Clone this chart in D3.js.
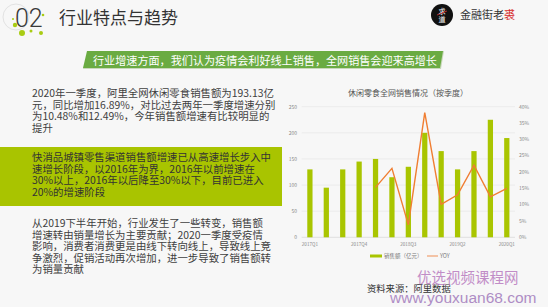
<!DOCTYPE html>
<html>
<head>
<meta charset="utf-8">
<script src="https://cdn.jsdelivr.net/npm/d3@7"></script>
<style>
  body { margin: 0; background: #f7f7f7; }
  svg { display: block; font-family: "Noto Sans CJK SC", "Noto Sans", sans-serif; }
</style>
</head>
<body>
<div id="chart"></div>
<script>
// quarterly data
const quarters = ["2017Q1","2017Q2","2017Q3","2017Q4","2018Q1","2018Q2","2018Q3","2018Q4","2019Q1","2019Q2","2019Q3","2019Q4","2020Q1"];
const sales = [130, 95, 130, 145, 150, 115, 135, 200, 165, 130, 165, 225, 190];
const yoyQuarters = ["2018Q1","2018Q2","2018Q3","2018Q4","2019Q1","2019Q2","2019Q3","2019Q4","2020Q1"];
const yoy = [0.153, 0.211, 0.038, 0.382, 0.101, 0.13, 0.221, 0.124, 0.15];
const leftTicks = [0, 50, 100, 150, 200, 250];
const rightTicks = [0, 0.05, 0.1, 0.15, 0.2, 0.25, 0.3, 0.35, 0.4];
const xTickLabels = ["2017Q1","2017Q4","2018Q3","2019Q2","2020Q1"];

const block1 = [
  "2020年一季度，阿里全网休闲零食销售额为193.13亿",
  "元，同比增加16.89%，对比过去两年一季度增速分别",
  "为10.48%和12.49%，今年销售额增速有比较明显的",
  "提升"
];
const block2 = [
  "快消品城镇零售渠道销售额增速已从高速增长步入中",
  "速增长阶段，以2016年为界，2016年以前增速在",
  "30%以上，2016年以后降至30%以下，目前已进入",
  "20%的增速阶段"
];
const block3 = [
  "从2019下半年开始，行业发生了一些转变，销售额",
  "增速转由销量增长为主要贡献；2020一季度受疫情",
  "影响，消费者消费更是由线下转向线上，导致线上竞",
  "争激烈，促销活动再次增加，进一步导致了销售额转",
  "为销量贡献"
];

const W = 548, H = 307;
const svg = d3.select("#chart").append("svg").attr("width", W).attr("height", H);
svg.append("rect").attr("width", W).attr("height", H).attr("fill", "#f7f7f7");

// ---- header ----
svg.append("circle").attr("cx", 16).attr("cy", 17).attr("r", 13)
  .attr("fill", "none").attr("stroke", "#dcdcdc").attr("stroke-width", 0.8);
svg.append("text").attr("x", 15).attr("y", 27).attr("font-size", 25)
  .attr("fill", "#3a3a3a").attr("font-family", "Roboto, sans-serif").attr("font-weight", 300)
  .text("02");
const dots = [[15,25,2.2],[22,33,3],[31,31,1.5],[41,33,2],[13,19,1],[43,15,1.3]];
svg.selectAll("circle.dot").data(dots).enter().append("circle")
  .attr("class", "dot").attr("cx", d => d[0]).attr("cy", d => d[1]).attr("r", d => d[2])
  .attr("fill", "#a9cc14");
svg.append("text").attr("x", 59).attr("y", 24).attr("font-size", 17)
  .attr("fill", "#333").text("行业特点与趋势");

svg.append("circle").attr("cx", 442).attr("cy", 15).attr("r", 11).attr("fill", "#111");
svg.append("text").attr("x", 442).attr("y", 14).attr("font-size", 7).attr("text-anchor", "middle")
  .attr("fill", "#fff").text("求");
svg.append("text").attr("x", 442).attr("y", 22).attr("font-size", 7).attr("text-anchor", "middle")
  .attr("fill", "#fff").text("道");
svg.append("line").attr("x1", 437).attr("y1", 15).attr("x2", 447).attr("y2", 11)
  .attr("stroke", "#d33").attr("stroke-width", 0.8);
const brand = svg.append("text").attr("x", 460).attr("y", 19).attr("font-size", 11).attr("fill", "#333");
brand.append("tspan").text("金融街老");
brand.append("tspan").attr("fill", "#d62a2a").text("裘");

// ---- banner ----
svg.append("polygon").attr("points", "88,51 444,51 441,69 83,69").attr("fill", "#c9d8bb");
svg.append("polygon").attr("points", "87,51 443,51 440,68 83,68").attr("fill", "#6aab42");
svg.append("text").attr("x", 93).attr("y", 64.5).attr("font-size", 11.1).attr("fill", "#fff")
  .text("行业增速方面，我们认为疫情会利好线上销售，全网销售会迎来高增长");

// ---- left text blocks ----
svg.append("rect").attr("x", 0).attr("y", 147).attr("width", 282).attr("height", 59).attr("fill", "#a9c400");
function writeBlock(lines, y0, color) {
  svg.append("g").selectAll("text").data(lines).enter().append("text")
    .attr("x", 32).attr("y", (d, i) => y0 + i * 11.6)
    .attr("font-size", 10.4).attr("fill", color).text(d => d);
}
writeBlock(block1, 97, "#404040");
writeBlock(block2, 161, "#333");
writeBlock(block3, 227, "#404040");

// ---- chart ----
const plotL = 301.7, plotR = 515, y0 = 237.3, y1 = 106.7;
const x = d3.scaleBand().domain(quarters).range([plotL, plotR]).paddingInner(0.68).paddingOuter(0.34);
const yL = d3.scaleLinear().domain([0, 250]).range([y0, y1]);
const yR = d3.scaleLinear().domain([0, 0.4]).range([y0, y1]);

svg.append("text").attr("x", 408).attr("y", 96).attr("text-anchor", "middle")
  .attr("font-size", 8).attr("fill", "#555").text("休闲零食全网销售情况（按季度）");

svg.append("g").selectAll("line").data(leftTicks).enter().append("line")
  .attr("x1", plotL).attr("x2", plotR).attr("y1", d => yL(d)).attr("y2", d => yL(d))
  .attr("stroke", d => d === 0 ? "#cfcfcf" : "#e4e4e4").attr("stroke-width", 0.6);

svg.append("g").selectAll("text").data(leftTicks).enter().append("text")
  .attr("x", 297).attr("y", d => yL(d) + 1.8).attr("text-anchor", "end")
  .attr("font-size", 5).attr("fill", "#888").text(d => d);

svg.append("g").selectAll("text").data(rightTicks).enter().append("text")
  .attr("x", 519).attr("y", d => yR(d) + 1.8).attr("text-anchor", "start")
  .attr("font-size", 5).attr("fill", "#888").text(d => d3.format(".0%")(d));

svg.append("g").selectAll("text").data(xTickLabels).enter().append("text")
  .attr("x", d => x(d) + x.bandwidth() / 2).attr("y", 246).attr("text-anchor", "middle")
  .attr("font-size", 4.6).attr("fill", "#888").text(d => d);

svg.append("g").selectAll("rect").data(sales).enter().append("rect")
  .attr("x", (d, i) => x(quarters[i])).attr("y", d => yL(d))
  .attr("width", x.bandwidth()).attr("height", d => y0 - yL(d))
  .attr("fill", "#a9c500");

const line = d3.line()
  .x((d, i) => x(yoyQuarters[i]) + x.bandwidth() / 2)
  .y(d => yR(d));
svg.append("path").datum(yoy).attr("d", line).attr("fill", "none")
  .attr("stroke", "#f07e32").attr("stroke-width", 1.4);

// legend
svg.append("rect").attr("x", 370).attr("y", 254.5).attr("width", 12).attr("height", 3).attr("fill", "#a9c500");
svg.append("text").attr("x", 384).attr("y", 258).attr("font-size", 5.5).attr("fill", "#777").text("销售额（亿元）");
svg.append("line").attr("x1", 427).attr("x2", 438).attr("y1", 256).attr("y2", 256)
  .attr("stroke", "#f0a070").attr("stroke-width", 1.2);
svg.append("text").attr("x", 440).attr("y", 258).attr("font-size", 5.5).attr("fill", "#777").text("YOY");

// source + watermark
svg.append("text").attr("x", 367).attr("y", 292).attr("font-size", 9.3).attr("fill", "#333").text("资料来源：阿里数据");
svg.append("text").attr("x", 417).attr("y", 283).attr("font-size", 14.5).attr("fill", "#b06ab8")
  .attr("opacity", 0.75).text("优选视频课程网");
svg.append("text").attr("x", 390).attr("y", 303).attr("font-size", 15.5).attr("fill", "#9060b0")
  .attr("opacity", 0.7).attr("font-family", "Liberation Sans, sans-serif").text("www.youxuan68.com");
</script>
</body>
</html>
